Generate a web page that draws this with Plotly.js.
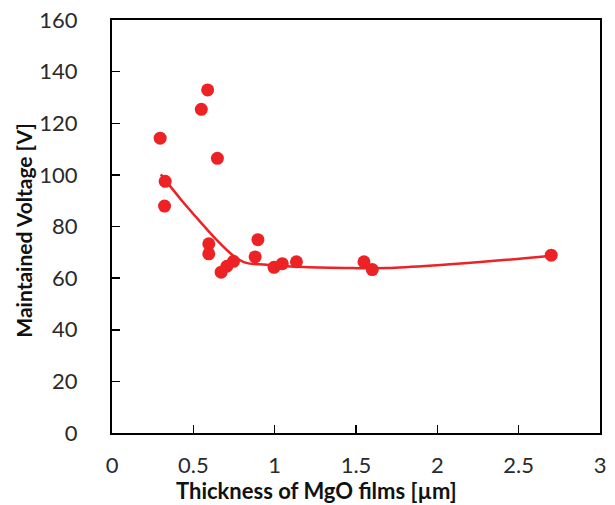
<!DOCTYPE html>
<html>
<head>
<meta charset="utf-8">
<script src="https://cdn.plot.ly/plotly-3.0.1.min.js"></script>
<style>html,body{margin:0;padding:0;background:#fff;}#chart{width:615px;height:505px;}</style>
</head>
<body>
<div id="chart"></div>
<script>
// Measured points
const thickness = [0.296, 0.327, 0.323, 0.549, 0.588, 0.648, 0.595, 0.595, 0.671, 0.706, 0.747, 0.897, 0.880, 0.996, 1.047, 1.134, 1.549, 1.600, 2.700];
const voltage   = [114.2, 97.5, 87.9, 125.4, 132.9, 106.4, 73.3, 69.4, 62.3, 64.6, 66.5, 74.9, 68.2, 64.2, 65.6, 66.3, 66.3, 63.3, 68.9];
// Trend curve
const curveX = [0.30, 0.43, 0.54, 0.64, 0.74, 0.82, 0.95, 1.18, 1.48, 1.69, 2.00, 2.37, 2.70];
const curveY = [100.2, 90.0, 82.0, 75.0, 69.0, 66.0, 65.2, 64.3, 63.9, 63.9, 65.0, 66.8, 68.7];
const xTicks = [0, 0.5, 1, 1.5, 2, 2.5, 3];
const yTicks = [0, 20, 40, 60, 80, 100, 120, 140, 160];
const xTitle = 'Thickness of MgO films [µm]';
const yTitle = 'Maintained Voltage [V]';

const red = 'rgb(237,34,36)';
const font = 'Lato, "Open Sans", sans-serif';

const traces = [
  {x: curveX, y: curveY, mode: 'lines', line: {color: red, width: 2.5, shape: 'spline', smoothing: 1}, hoverinfo: 'skip'},
  {x: thickness, y: voltage, mode: 'markers', marker: {color: red, size: 13}}
];

const axisCommon = {
  showline: true, linecolor: '#000', linewidth: 2, mirror: true,
  ticks: 'inside', ticklen: 8, tickwidth: 1.5, tickcolor: '#000',
  showgrid: false, zeroline: false,
  tickfont: {family: font, size: 22, color: '#2a2a2a'}
};

const layout = {
  width: 615, height: 505,
  margin: {l: 112, r: 15, t: 20, b: 72},
  showlegend: false,
  paper_bgcolor: '#fff', plot_bgcolor: '#fff',
  xaxis: Object.assign({}, axisCommon, {
    range: [0, 3], tickvals: xTicks, ticktext: xTicks.map(String),
    ticklabelstandoff: 12
  }),
  yaxis: Object.assign({}, axisCommon, {
    range: [0, 160], tickvals: yTicks, ticktext: yTicks.map(String),
    ticklabelstandoff: 28
  }),
  annotations: [
    {text: xTitle, xref: 'paper', yref: 'paper', x: 0.42, y: 0, yshift: -57,
     xanchor: 'center', yanchor: 'middle', showarrow: false,
     font: {family: font, size: 22, color: '#111', weight: 'bold'}},
    {text: yTitle, xref: 'paper', yref: 'paper', x: 0, xshift: -88, y: 0.49,
     xanchor: 'center', yanchor: 'middle', textangle: -90, showarrow: false,
     font: {family: font, size: 21, color: '#111', weight: 'bold'}}
  ]
};

Plotly.newPlot('chart', traces, layout, {displayModeBar: false, staticPlot: true});
</script>
</body>
</html>
